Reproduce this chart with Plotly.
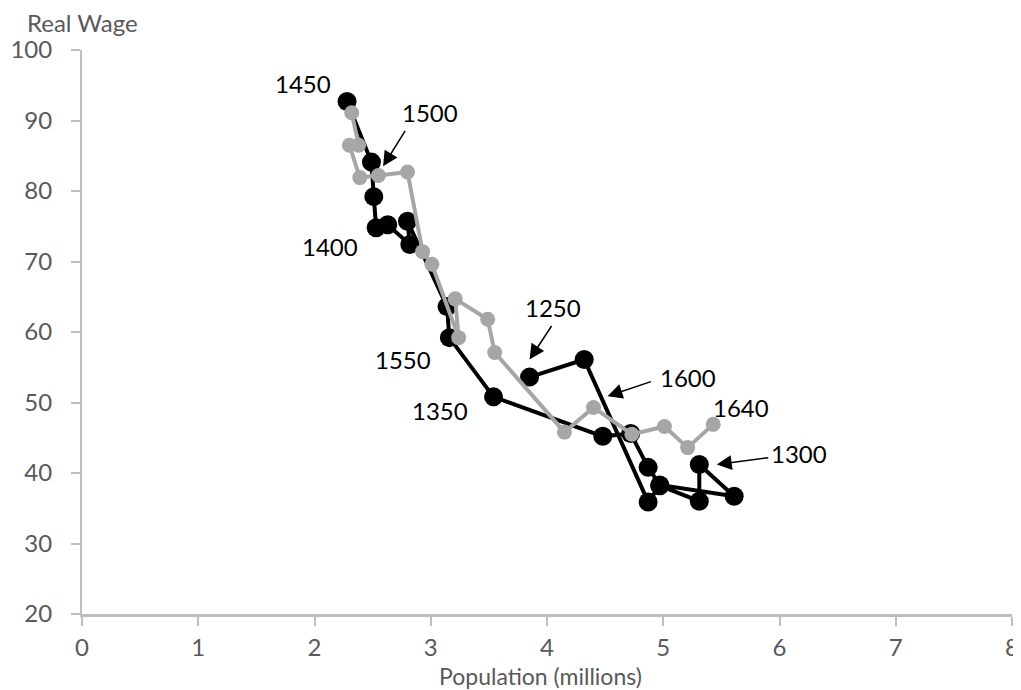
import plotly.graph_objects as go

# Black series (c.1250-1450): population (millions), real wage
pop_early = [3.85, 4.32, 4.87, 4.97, 5.31, 5.31, 5.61, 4.97, 4.87, 4.72, 4.48, 3.54,
             3.16, 3.14, 2.80, 2.82, 2.63, 2.53, 2.51, 2.49, 2.28]
wage_early = [53.6, 56.1, 35.9, 38.2, 36.0, 41.2, 36.7, 38.3, 40.8, 45.6, 45.2, 50.8,
              59.2, 63.6, 75.7, 72.4, 75.2, 74.8, 79.2, 84.1, 92.7]

# Grey series (c.1450-1640)
pop_late = [2.32, 2.38, 2.30, 2.39, 2.55, 2.80, 2.93, 3.01, 3.24, 3.21, 3.49, 3.55,
            4.15, 4.40, 4.73, 5.01, 5.21, 5.43]
wage_late = [91.1, 86.5, 86.5, 81.9, 82.2, 82.7, 71.4, 69.6, 59.2, 64.7, 61.8, 57.1,
             45.8, 49.3, 45.5, 46.6, 43.6, 46.9]

# Year labels: text, x, y
label_text = ["1450", "1500", "1400", "1250", "1550", "1600", "1350", "1640", "1300"]
label_x = [1.90, 2.99, 2.13, 4.05, 2.76, 5.21, 3.08, 5.67, 6.17]
label_y = [95.2, 91.1, 72.1, 63.5, 56.1, 53.6, 48.8, 49.3, 42.7]

# Arrows: head position (data) and tail offset (px)
arrow_x = [2.59, 3.85, 4.52, 5.46]
arrow_y = [83.5, 56.1, 50.9, 41.2]
arrow_dx = [23, 23, 45, 53]
arrow_dy = [-37, -35, -15, -7]

FONT = "Lato"
TICK_GREY = "#595959"
AXIS_GREY = "#bfbfbf"

fig = go.Figure()
fig.add_trace(go.Scatter(
    x=pop_early, y=wage_early, mode="lines+markers",
    line=dict(color="#000000", width=4),
    marker=dict(color="#000000", size=19),
    showlegend=False, hoverinfo="skip"))
fig.add_trace(go.Scatter(
    x=pop_late, y=wage_late, mode="lines+markers",
    line=dict(color="#a6a6a6", width=4),
    marker=dict(color="#a6a6a6", size=15),
    showlegend=False, hoverinfo="skip"))

for t, x, y in zip(label_text, label_x, label_y):
    fig.add_annotation(x=x, y=y, text=t, showarrow=False,
                       xanchor="center", yanchor="middle",
                       font=dict(family=FONT, size=24, color="#000000"))

for x, y, dx, dy in zip(arrow_x, arrow_y, arrow_dx, arrow_dy):
    fig.add_annotation(x=x, y=y, ax=dx, ay=dy, text="", showarrow=True,
                       arrowhead=2, arrowsize=2.0, arrowwidth=1.5,
                       arrowcolor="#000000", standoff=0, startstandoff=0)

# plot area: 930 x 564 px
fig.add_annotation(xref="paper", yref="paper", x=0.001, y=1.0479,
                   xanchor="center", yanchor="middle",
                   text="Real Wage", showarrow=False,
                   font=dict(family=FONT, size=24, color=TICK_GREY))
fig.add_annotation(xref="paper", yref="paper", x=0.4925, y=-0.110,
                   xanchor="center", yanchor="middle",
                   text="Population (millions)", showarrow=False,
                   font=dict(family=FONT, size=23, color=TICK_GREY))

# page body has an 8px default margin; compensate so the plot area sits at x 82-1012, y 50-614
fig.update_layout(
    width=1013, height=682,
    margin=dict(l=74, r=9, t=42, b=76),
    plot_bgcolor="white", paper_bgcolor="white",
    font=dict(family=FONT, color=TICK_GREY),
    xaxis=dict(range=[0, 8], dtick=1, showgrid=False, zeroline=False,
               automargin=False, ticklabeloverflow="allow",
               showline=True, linecolor=AXIS_GREY, linewidth=2.5,
               ticks="outside", ticklen=9, tickcolor=AXIS_GREY, tickwidth=1.5,
               ticklabelstandoff=1,
               tickfont=dict(family=FONT, size=24, color=TICK_GREY)),
    yaxis=dict(range=[20, 100], dtick=10, showgrid=False, zeroline=False,
               automargin=False,
               showline=True, linecolor=AXIS_GREY, linewidth=2,
               ticks="outside", ticklen=9, tickcolor=AXIS_GREY, tickwidth=1.5,
               ticklabelstandoff=14,
               tickfont=dict(family=FONT, size=24, color=TICK_GREY)),
)

fig.write_html("out.html")
